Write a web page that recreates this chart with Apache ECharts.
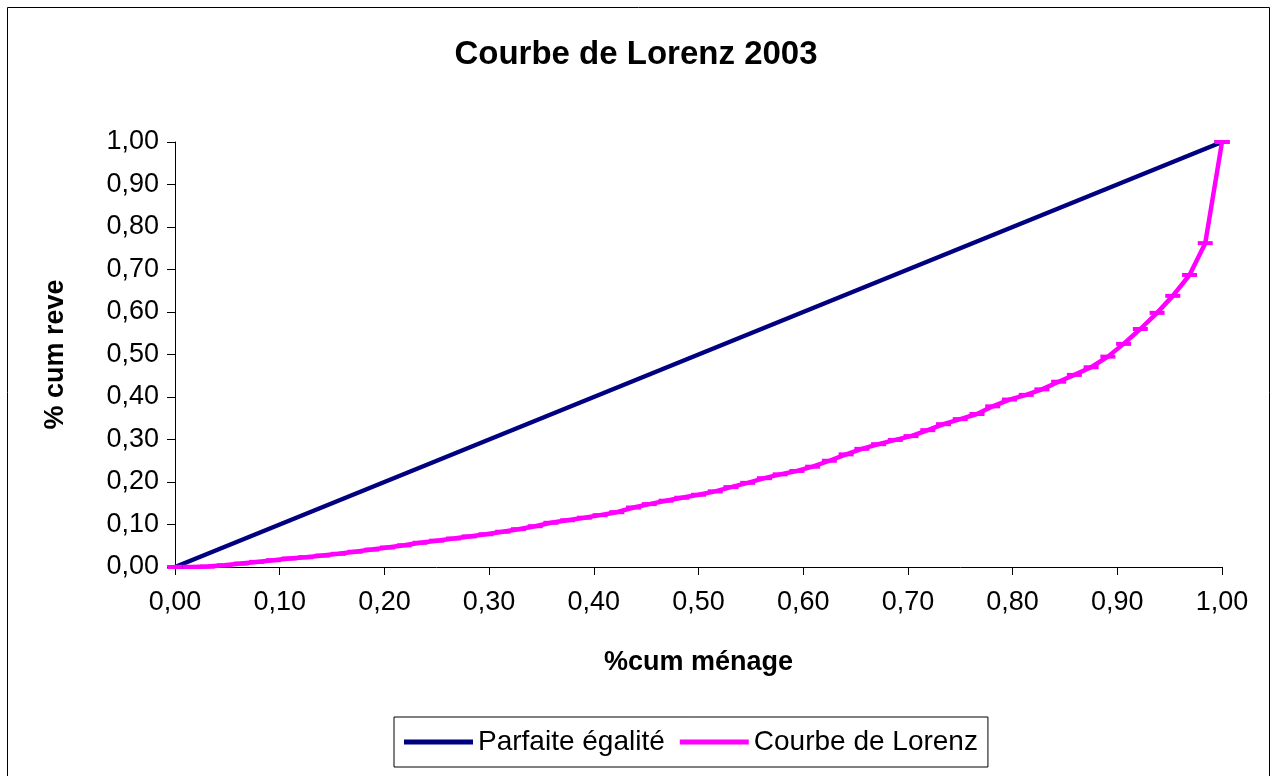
<!DOCTYPE html>
<html>
<head>
<meta charset="utf-8">
<script src="https://cdn.jsdelivr.net/npm/echarts@6/dist/echarts.min.js"></script>
<style>
  html, body { margin: 0; padding: 0; background: #fff; }
  #chart { width: 1272px; height: 776px; }
</style>
</head>
<body>
<div id="chart"></div>
<script>
// x axis: cumulated share of households
const menage = [
  0.000, 0.016, 0.031, 0.047, 0.063, 0.078, 0.094, 0.109, 0.125, 0.141,
  0.156, 0.172, 0.188, 0.203, 0.219, 0.234, 0.250, 0.266, 0.281, 0.297,
  0.313, 0.328, 0.344, 0.359, 0.375, 0.391, 0.406, 0.422, 0.438, 0.453,
  0.469, 0.484, 0.500, 0.516, 0.531, 0.547, 0.563, 0.578, 0.594, 0.609,
  0.625, 0.641, 0.656, 0.672, 0.688, 0.703, 0.719, 0.734, 0.750, 0.766,
  0.781, 0.797, 0.813, 0.828, 0.844, 0.859, 0.875, 0.891, 0.906, 0.922,
  0.938, 0.953, 0.969, 0.984, 1.000
];
// y axis: cumulated share of income
const revenu = [
  0.000, 0.000, 0.001, 0.004, 0.008, 0.012, 0.016, 0.020, 0.023, 0.027,
  0.031, 0.036, 0.041, 0.046, 0.051, 0.057, 0.062, 0.067, 0.072, 0.077,
  0.083, 0.089, 0.096, 0.104, 0.110, 0.116, 0.122, 0.129, 0.140, 0.148,
  0.156, 0.163, 0.170, 0.178, 0.188, 0.198, 0.209, 0.218, 0.226, 0.236,
  0.250, 0.265, 0.278, 0.289, 0.299, 0.308, 0.322, 0.336, 0.348, 0.360,
  0.378, 0.394, 0.405, 0.418, 0.436, 0.452, 0.470, 0.495, 0.525, 0.560,
  0.598, 0.638, 0.687, 0.762, 1.000
];
// line of perfect equality
const egaliteX = [0, 1];
const egaliteY = [0, 1];

const FONT = '"Liberation Sans", Arial, sans-serif';
const fmt = v => v.toFixed(2).replace('.', ',');

const chart = echarts.init(document.getElementById('chart'));

const axisCommon = {
  type: 'value',
  min: 0,
  max: 1,
  interval: 0.1,
  splitLine: { show: false },
  axisLine: { show: true, onZero: false, lineStyle: { color: '#000', width: 1 } },
  axisTick: { show: true, inside: false, length: 8, lineStyle: { color: '#000' } },
  nameLocation: 'middle',
  nameTextStyle: { fontFamily: FONT, fontWeight: 'bold', fontSize: 27, color: '#000' }
};

chart.setOption({
  animation: false,
  backgroundColor: '#fff',
  graphic: [{
    type: 'rect',
    shape: { x: 7.5, y: 7.5, width: 1262, height: 800 },
    style: { fill: 'none', stroke: '#000', lineWidth: 1 },
    silent: true
  }],
  title: {
    text: 'Courbe de Lorenz 2003',
    left: 'center',
    top: 33,
    textStyle: { fontFamily: FONT, fontWeight: 'bold', fontSize: 33, color: '#000' }
  },
  grid: { left: 175, right: 50, top: 142, bottom: 209 },
  xAxis: Object.assign({}, axisCommon, {
    name: '%cum ménage',
    nameGap: 82,
    axisLabel: { formatter: fmt, margin: 22, fontFamily: FONT, fontSize: 27, color: '#000' }
  }),
  yAxis: Object.assign({}, axisCommon, {
    name: '% cum reve',
    nameGap: 106,
    axisLabel: { formatter: fmt, margin: 16, fontFamily: FONT, fontSize: 27, color: '#000' }
  }),
  legend: {
    left: 394,
    top: 717,
    padding: [11, 10, 11, 10],
    itemGap: 15,
    itemWidth: 69,
    itemHeight: 5,
    icon: 'rect',
    borderColor: '#000',
    borderWidth: 1,
    textStyle: { fontFamily: FONT, fontSize: 28, color: '#000' },
    data: ['Parfaite égalité', 'Courbe de Lorenz']
  },
  series: [
    {
      name: 'Parfaite égalité',
      type: 'line',
      data: egaliteX.map((x, i) => [x, egaliteY[i]]),
      symbol: 'rect',
      symbolSize: [15, 4],
      showAllSymbol: true,
      color: '#000080',
      itemStyle: { color: '#000080' },
      lineStyle: { color: '#000080', width: 4.5 }
    },
    {
      name: 'Courbe de Lorenz',
      type: 'line',
      data: menage.map((x, i) => [x, revenu[i]]),
      symbol: 'rect',
      symbolSize: [15, 4],
      showAllSymbol: true,
      color: '#ff00ff',
      itemStyle: { color: '#ff00ff' },
      lineStyle: { color: '#ff00ff', width: 4.5 }
    }
  ]
});
</script>
</body>
</html>
